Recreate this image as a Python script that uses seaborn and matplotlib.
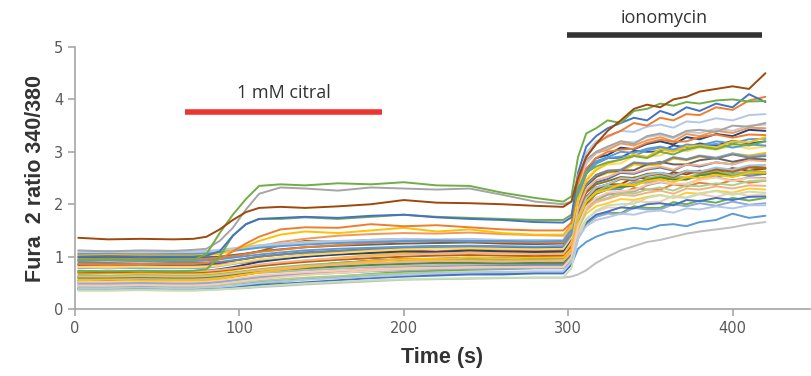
import numpy as np
import pandas as pd
import matplotlib
matplotlib.use("Agg")
import matplotlib.pyplot as plt
import seaborn as sns

time_s = [2, 20, 40, 60, 72, 80, 88, 96, 104, 112, 125, 140, 160, 180, 200, 220, 240, 260, 280, 297,
          302, 306, 311, 317, 324, 332, 340, 348, 356, 364, 372, 380, 390, 400, 410, 420]

# Fura-2 340/380 ratio per cell (baseline | citral | ionomycin)
c01 = [.62, .61, .63, .62, .62, .62, .64, .66, .68, .72, .76, .82, .88, .92, .95, .94, .97, .96, .98, .97,
       1.20, 1.85, 2.25, 2.42, 2.48, 2.60, 2.58, 2.66, 2.70, 2.64, 2.76, 2.72, 2.80, 2.76, 2.86, 2.85]
c02 = [.83, .84, .82, .83, .83, .84, .85, .87, .89, .92, .96, 1.00, 1.05, 1.08, 1.12, 1.10, 1.14, 1.12, 1.11, 1.12,
       1.28, 1.75, 2.00, 2.12, 2.20, 2.19, 2.31, 2.28, 2.28, 2.38, 2.34, 2.41, 2.37, 2.46, 2.41, 2.45]
c03 = [.52, .53, .52, .52, .53, .53, .54, .56, .58, .61, .64, .68, .72, .76, .80, .81, .83, .82, .84, .84,
       1.00, 1.60, 1.92, 2.08, 2.18, 2.22, 2.24, 2.36, 2.42, 2.38, 2.39, 2.47, 2.52, 2.45, 2.51, 2.50]
c04 = [.68, .69, .68, .68, .68, .69, .71, .74, .78, .82, .86, .92, .98, 1.03, 1.07, 1.06, 1.10, 1.08, 1.07, 1.08,
       1.28, 1.95, 2.35, 2.52, 2.60, 2.62, 2.76, 2.74, 2.76, 2.87, 2.84, 2.91, 2.87, 2.97, 2.93, 2.98]
c05 = [.45, .46, .45, .45, .45, .46, .47, .48, .50, .52, .54, .57, .60, .63, .65, .67, .68, .68, .70, .70,
       .85, 1.15, 1.28, 1.38, 1.46, 1.50, 1.55, 1.52, 1.60, 1.62, 1.58, 1.66, 1.70, 1.82, 1.74, 1.78]
c06 = [.38, .38, .39, .38, .38, .39, .40, .42, .45, .48, .52, .57, .62, .67, .71, .73, .75, .76, .78, .78,
       .92, 1.35, 1.62, 1.76, 1.84, 1.83, 1.96, 1.93, 1.93, 2.04, 2.00, 2.07, 2.03, 2.12, 2.07, 2.12]
c07 = [.72, .73, .72, .72, .72, .73, .76, .80, .85, .90, .95, 1.00, 1.04, 1.07, 1.10, 1.09, 1.12, 1.10, 1.09, 1.10,
       1.35, 2.20, 2.65, 2.88, 2.94, 3.08, 3.05, 3.15, 3.20, 3.14, 3.28, 3.24, 3.34, 3.30, 3.42, 3.40]
c08 = [.55, .55, .56, .55, .55, .56, .58, .62, .66, .70, .75, .81, .87, .92, .95, .96, .98, .97, .98, .98,
       1.15, 1.75, 2.10, 2.28, 2.38, 2.38, 2.51, 2.49, 2.50, 2.61, 2.57, 2.64, 2.60, 2.69, 2.64, 2.68]
c09 = [.98, .99, .97, .98, .98, .99, 1.00, 1.03, 1.06, 1.10, 1.14, 1.18, 1.21, 1.23, 1.25, 1.26, 1.27, 1.25, 1.24, 1.25,
       1.40, 2.00, 2.35, 2.52, 2.62, 2.64, 2.65, 2.76, 2.81, 2.76, 2.76, 2.84, 2.88, 2.81, 2.87, 2.85]
c10 = [.92, .93, .92, .92, .92, .93, .96, 1.00, 1.05, 1.10, 1.22, 1.30, 1.28, 1.32, 1.33, 1.31, 1.32, 1.30, 1.29, 1.28,
       1.42, 1.95, 2.22, 2.38, 2.44, 2.52, 2.50, 2.58, 2.60, 2.56, 2.64, 2.62, 2.68, 2.64, 2.72, 2.70]
c11 = [.50, .50, .51, .50, .50, .51, .53, .55, .58, .61, .64, .68, .72, .76, .80, .82, .83, .84, .85, .85,
       1.02, 1.65, 2.02, 2.20, 2.28, 2.29, 2.43, 2.41, 2.42, 2.53, 2.49, 2.56, 2.52, 2.60, 2.54, 2.58]
c12 = [1.05, 1.06, 1.05, 1.05, 1.05, 1.06, 1.08, 1.12, 1.16, 1.20, 1.28, 1.34, 1.40, 1.43, 1.45, 1.44, 1.46, 1.43, 1.41, 1.40,
       1.62, 2.35, 2.78, 2.98, 3.04, 3.16, 3.12, 3.22, 3.28, 3.20, 3.34, 3.30, 3.40, 3.36, 3.46, 3.45]
c13 = [.62, .62, .63, .62, .62, .63, .64, .65, .67, .69, .71, .74, .77, .80, .82, .84, .85, .86, .88, .88,
       1.05, 1.70, 2.05, 2.22, 2.32, 2.32, 2.45, 2.43, 2.44, 2.55, 2.51, 2.58, 2.54, 2.63, 2.58, 2.62]
c14 = [.58, .58, .59, .58, .58, .59, .61, .64, .67, .71, .75, .80, .84, .87, .90, .91, .92, .90, .89, .90,
       1.05, 1.55, 1.82, 1.96, 2.02, 2.10, 2.08, 2.14, 2.18, 2.12, 2.22, 2.20, 2.26, 2.22, 2.30, 2.28]
c15 = [.78, .79, .78, .78, .78, .79, .82, .86, .90, .94, .98, 1.04, 1.09, 1.13, 1.16, 1.17, 1.19, 1.18, 1.17, 1.18,
       1.38, 2.00, 2.38, 2.56, 2.64, 2.66, 2.80, 2.78, 2.79, 2.90, 2.86, 2.93, 2.89, 2.97, 2.91, 2.95]
c16 = [.65, .64, .65, .64, .64, .65, .67, .70, .73, .76, .80, .84, .88, .92, .95, .95, .94, .93, .94, .93,
       1.10, 1.70, 2.05, 2.24, 2.34, 2.37, 2.38, 2.49, 2.54, 2.50, 2.50, 2.58, 2.63, 2.57, 2.63, 2.62]
c17 = [.85, .86, .85, .85, .85, .86, .88, .92, .96, 1.00, 1.04, 1.08, 1.11, 1.15, 1.18, 1.20, 1.19, 1.18, 1.17, 1.18,
       1.40, 2.15, 2.58, 2.78, 2.88, 2.89, 3.02, 3.00, 3.01, 3.12, 3.09, 3.16, 3.12, 3.21, 3.16, 3.20]
c18 = [.70, .70, .71, .70, .70, .71, .73, .76, .79, .82, .86, .90, .94, .97, 1.00, 1.02, 1.03, 1.02, 1.01, 1.02,
       1.20, 1.80, 2.15, 2.32, 2.38, 2.48, 2.46, 2.54, 2.58, 2.52, 2.62, 2.60, 2.66, 2.62, 2.70, 2.68]
c19 = [.88, .88, .87, .88, .88, .88, .90, .93, .96, 1.00, 1.04, 1.08, 1.11, 1.14, 1.16, 1.17, 1.18, 1.16, 1.15, 1.15,
       1.35, 2.00, 2.38, 2.56, 2.64, 2.65, 2.79, 2.77, 2.78, 2.89, 2.85, 2.92, 2.87, 2.95, 2.89, 2.92]
c20 = [.72, .73, .72, .72, .72, .73, .75, .78, .81, .85, .89, .93, .97, 1.01, 1.04, 1.06, 1.07, 1.06, 1.05, 1.05,
       1.25, 1.90, 2.28, 2.46, 2.52, 2.62, 2.60, 2.68, 2.72, 2.66, 2.76, 2.74, 2.80, 2.76, 2.84, 2.82]
c21 = [.48, .48, .49, .48, .48, .49, .51, .54, .57, .60, .63, .66, .69, .72, .74, .76, .77, .77, .78, .78,
       .95, 1.40, 1.64, 1.76, 1.82, 1.81, 1.93, 1.90, 1.90, 2.00, 1.96, 2.02, 1.97, 2.05, 1.99, 2.02]
c22 = [.42, .42, .43, .42, .42, .43, .45, .48, .51, .54, .57, .60, .63, .66, .68, .70, .70, .70, .71, .70,
       .88, 1.50, 1.88, 2.06, 2.12, 2.22, 2.20, 2.28, 2.32, 2.26, 2.36, 2.34, 2.40, 2.36, 2.44, 2.45]
c23 = [.80, .80, .81, .80, .80, .81, .83, .87, .91, .95, .99, 1.03, 1.07, 1.11, 1.14, 1.15, 1.16, 1.15, 1.14, 1.15,
       1.38, 2.05, 2.48, 2.68, 2.76, 2.78, 2.92, 2.91, 2.93, 3.04, 3.01, 3.08, 3.04, 3.12, 3.06, 3.10]
c24 = [.58, .58, .59, .58, .58, .59, .61, .64, .67, .70, .74, .78, .82, .86, .88, .90, .91, .90, .90, .90,
       1.10, 1.75, 2.12, 2.32, 2.38, 2.50, 2.48, 2.56, 2.60, 2.54, 2.64, 2.62, 2.70, 2.66, 2.74, 2.75]
c25 = [.52, .52, .53, .52, .52, .53, .55, .58, .61, .64, .67, .70, .73, .76, .78, .79, .80, .80, .80, .80,
       .98, 1.45, 1.72, 1.86, 1.94, 1.93, 2.06, 2.04, 2.05, 2.16, 2.12, 2.19, 2.14, 2.22, 2.16, 2.20]
c26 = [1.08, 1.09, 1.08, 1.08, 1.08, 1.09, 1.10, 1.13, 1.16, 1.19, 1.22, 1.26, 1.28, 1.30, 1.32, 1.31, 1.32, 1.30, 1.30, 1.30,
       1.55, 2.30, 2.78, 3.00, 3.08, 3.20, 3.18, 3.28, 3.32, 3.26, 3.38, 3.36, 3.44, 3.40, 3.50, 3.52]
c27 = [1.10, 1.11, 1.10, 1.10, 1.10, 1.11, 1.13, 1.16, 1.19, 1.22, 1.25, 1.28, 1.30, 1.32, 1.34, 1.33, 1.34, 1.32, 1.32, 1.32,
       1.60, 2.45, 2.98, 3.20, 3.28, 3.40, 3.38, 3.48, 3.52, 3.46, 3.58, 3.56, 3.64, 3.60, 3.70, 3.72]
c28 = [.60, .60, .61, .60, .60, .61, .63, .66, .69, .72, .75, .78, .81, .84, .86, .88, .88, .87, .88, .88,
       1.05, 1.68, 2.02, 2.20, 2.30, 2.33, 2.35, 2.46, 2.51, 2.47, 2.47, 2.55, 2.60, 2.53, 2.59, 2.58]
c29 = [.40, .40, .41, .40, .40, .40, .41, .42, .44, .46, .48, .51, .55, .59, .62, .64, .66, .66, .68, .68,
       .85, 1.35, 1.65, 1.80, 1.86, 1.94, 1.92, 2.00, 2.02, 1.98, 2.08, 2.06, 2.12, 2.08, 2.14, 2.15]
c30 = [.95, .96, .95, .95, .95, .96, .98, 1.01, 1.05, 1.09, 1.13, 1.18, 1.22, 1.26, 1.29, 1.30, 1.29, 1.28, 1.27, 1.27,
       1.50, 2.22, 2.68, 2.88, 3.00, 3.04, 3.06, 3.17, 3.23, 3.19, 3.20, 3.28, 3.33, 3.27, 3.33, 3.32]
c31 = [.36, .36, .37, .36, .36, .37, .38, .39, .40, .42, .44, .47, .50, .53, .56, .57, .58, .59, .60, .60,
       .62, .66, .74, .88, 1.00, 1.12, 1.20, 1.28, 1.32, 1.38, 1.44, 1.48, 1.52, 1.56, 1.62, 1.66]
c32 = [.55, .56, .55, .55, .55, .56, .58, .62, .66, .70, .75, .80, .86, .91, .95, .96, .98, .97, .98, .98,
       1.15, 1.70, 2.05, 2.22, 2.28, 2.38, 2.36, 2.44, 2.48, 2.42, 2.52, 2.50, 2.56, 2.52, 2.60, 2.60]
c33 = [.92, .93, .92, .92, .92, .93, .95, .98, 1.01, 1.04, 1.08, 1.12, 1.15, 1.17, 1.19, 1.20, 1.21, 1.20, 1.19, 1.20,
       1.42, 2.15, 2.58, 2.78, 2.88, 2.91, 2.92, 3.03, 3.08, 3.04, 3.04, 3.11, 3.15, 3.08, 3.14, 3.12]
c34 = [.62, .62, .63, .62, .62, .63, .65, .68, .71, .74, .78, .82, .85, .88, .90, .92, .92, .91, .92, .92,
       1.08, 1.60, 1.90, 2.04, 2.10, 2.18, 2.16, 2.22, 2.26, 2.20, 2.30, 2.28, 2.34, 2.30, 2.36, 2.35]
c35 = [.35, .35, .36, .35, .35, .36, .37, .39, .41, .43, .46, .49, .52, .55, .57, .58, .59, .60, .60, .60,
       .78, 1.35, 1.70, 1.88, 1.98, 2.00, 2.01, 2.12, 2.17, 2.13, 2.13, 2.21, 2.25, 2.18, 2.24, 2.22]
c36 = [1.05, 1.05, 1.04, 1.05, 1.05, 1.06, 1.08, 1.11, 1.14, 1.17, 1.20, 1.23, 1.26, 1.28, 1.30, 1.31, 1.30, 1.30, 1.29, 1.30,
       1.52, 2.20, 2.62, 2.82, 2.90, 3.00, 2.98, 3.06, 3.10, 3.04, 3.14, 3.12, 3.20, 3.16, 3.24, 3.25]
c37 = [.45, .45, .46, .45, .45, .46, .48, .51, .54, .57, .61, .65, .69, .73, .76, .78, .79, .80, .80, .80,
       .98, 1.58, 1.95, 2.12, 2.22, 2.25, 2.27, 2.38, 2.43, 2.39, 2.39, 2.47, 2.51, 2.44, 2.50, 2.48]
c38 = [.40, .40, .41, .40, .40, .41, .42, .44, .47, .50, .53, .56, .59, .62, .65, .68, .70, .71, .72, .72,
       .90, 1.35, 1.58, 1.70, 1.75, 1.82, 1.80, 1.86, 1.88, 1.84, 1.92, 1.90, 1.96, 1.92, 1.98, 1.98]
# citral responders
c39 = [1.02, 1.03, 1.02, 1.02, 1.02, 1.03, 1.05, 1.12, 1.20, 1.30, 1.42, 1.48, 1.45, 1.50, 1.55, 1.48, 1.52, 1.45, 1.42, 1.42,
       1.55, 2.10, 2.45, 2.65, 2.78, 2.85, 2.95, 2.90, 3.05, 3.00, 3.10, 3.12, 3.08, 3.20, 3.18, 3.28]
c40 = [.86, .85, .86, .86, .86, .88, .95, 1.10, 1.25, 1.38, 1.52, 1.56, 1.55, 1.62, 1.58, 1.60, 1.56, 1.52, 1.50, 1.50,
       1.65, 2.40, 2.90, 3.15, 3.30, 3.40, 3.55, 3.50, 3.65, 3.60, 3.72, 3.70, 3.85, 3.80, 3.98, 4.05]
c41 = [.73, .72, .73, .72, .73, .76, 1.00, 1.40, 1.62, 1.72, 1.72, 1.75, 1.72, 1.76, 1.80, 1.76, 1.74, 1.72, 1.70, 1.70,
       1.80, 2.30, 2.60, 2.72, 2.80, 2.85, 2.92, 2.88, 3.00, 2.95, 3.05, 3.10, 3.05, 3.15, 3.12, 3.20]
c42 = [1.00, 1.01, 1.00, 1.00, 1.00, 1.02, 1.10, 1.40, 1.62, 1.72, 1.74, 1.76, 1.74, 1.78, 1.80, 1.75, 1.72, 1.70, 1.66, 1.65,
       1.75, 2.60, 3.10, 3.30, 3.45, 3.55, 3.65, 3.60, 3.78, 3.70, 3.85, 3.78, 3.92, 3.85, 4.10, 3.95]
c43 = [1.12, 1.10, 1.12, 1.11, 1.13, 1.15, 1.30, 1.55, 1.90, 2.20, 2.32, 2.30, 2.26, 2.32, 2.30, 2.28, 2.30, 2.18, 2.05, 2.00,
       2.05, 2.55, 2.85, 3.00, 3.10, 3.20, 3.15, 3.30, 3.35, 3.28, 3.40, 3.42, 3.38, 3.50, 3.48, 3.55]
c44 = [.94, .95, .94, .95, .94, 1.05, 1.45, 1.80, 2.10, 2.35, 2.38, 2.36, 2.40, 2.38, 2.42, 2.36, 2.35, 2.22, 2.12, 2.05,
       2.15, 2.90, 3.35, 3.45, 3.60, 3.55, 3.78, 3.82, 3.92, 3.88, 3.95, 3.92, 3.98, 4.00, 3.96, 3.97]
c45 = [1.36, 1.33, 1.34, 1.33, 1.34, 1.38, 1.52, 1.70, 1.85, 1.93, 1.95, 1.93, 1.96, 2.00, 2.08, 2.03, 2.02, 2.00, 1.97, 1.95,
       2.05, 2.50, 2.90, 3.15, 3.40, 3.60, 3.82, 3.90, 3.85, 4.00, 4.05, 4.15, 4.20, 4.25, 4.20, 4.50]

cells = [c01, c02, c03, c04, c05, c06, c07, c08, c09, c10, c11, c12, c13, c14, c15,
         c16, c17, c18, c19, c20, c21, c22, c23, c24, c25, c26, c27, c28, c29, c30,
         c31, c32, c33, c34, c35, c36, c37, c38, c39, c40, c41, c42, c43, c44, c45]

# Excel-like series colours, one per cell
colors = ["#4472C4", "#ED7D31", "#A5A5A5", "#FFC000", "#5B9BD5", "#70AD47", "#264478", "#9E480E",
          "#636363", "#997300", "#698ED0", "#F1975A", "#B7B7B7", "#FFCD33", "#7CAFDD", "#8CC168",
          "#335AA1", "#BC5F17", "#848484", "#F4B183", "#8FAADC", "#A9D18E", "#FFD966", "#9DC3E6",
          "#F8CBAD", "#C9C9C9", "#B4C7E7", "#5A8A39", "#4472C4", "#ED7D31", "#BFBFBF", "#FFC000",
          "#5B9BD5", "#F4B183", "#C5E0B4", "#5B9BD5", "#F8CBAD", "#B4C7E7",
          "#FFC000", "#ED7D31", "#70AD47", "#4472C4", "#A5A5A5", "#70AD47", "#9E480E"]

citral_window = [67, 187]
citral_level = 3.76
iono_window = [299, 418]
iono_level = 5.23

rows = []
for i, vals in enumerate(cells):
    for t, v in zip(time_s, vals):
        rows.append({"cell": f"c{i+1:02d}", "time": t, "ratio": v})
df = pd.DataFrame(rows)

sns.set_theme(style="ticks")
plt.rcParams["font.family"] = ["DejaVu Sans"]

fig = plt.figure(figsize=(8.11, 3.76), dpi=100)
ax = fig.add_axes([0.0925, 0.178, 0.906, 0.697])

order = [f"c{i+1:02d}" for i in range(len(cells))]
sns.lineplot(data=df, x="time", y="ratio", hue="cell", hue_order=order,
             palette=colors, legend=False, linewidth=1.4, ax=ax)

ax.set_xlim(0, 447)
ax.set_ylim(0, 5)
ax.set_xticks([0, 100, 200, 300, 400])
ax.set_yticks([0, 1, 2, 3, 4, 5])
sns.despine(ax=ax)
for s in ["left", "bottom"]:
    ax.spines[s].set_color("#A6A6A6")
    ax.spines[s].set_linewidth(1.2)
ax.tick_params(colors="#A6A6A6", labelcolor="#595959", labelsize=10.5, length=5, width=1.2)

ax.set_xlabel("Time (s)", fontsize=15.5, fontweight="bold", color="#333333",
              family="Liberation Sans", labelpad=8)
ax.set_ylabel("Fura  2 ratio 340/380", fontsize=15.5, fontweight="bold", color="#333333",
              family="Liberation Sans", labelpad=6)

# treatment bars
ax.plot(citral_window, [citral_level, citral_level], color="#EE3333", lw=4, solid_capstyle="butt",
        clip_on=False)
ax.text(sum(citral_window) / 2, citral_level + 0.2, "1 mM citral", ha="center", va="bottom",
        fontsize=13, color="#333333", family="Open Sans")
ax.plot(iono_window, [iono_level, iono_level], color="#333333", lw=4, solid_capstyle="butt",
        clip_on=False)
ax.text(sum(iono_window) / 2, iono_level + 0.15, "ionomycin", ha="center", va="bottom",
        fontsize=13, color="#333333", family="Open Sans", clip_on=False)

fig.savefig("out.png", dpi=100)
